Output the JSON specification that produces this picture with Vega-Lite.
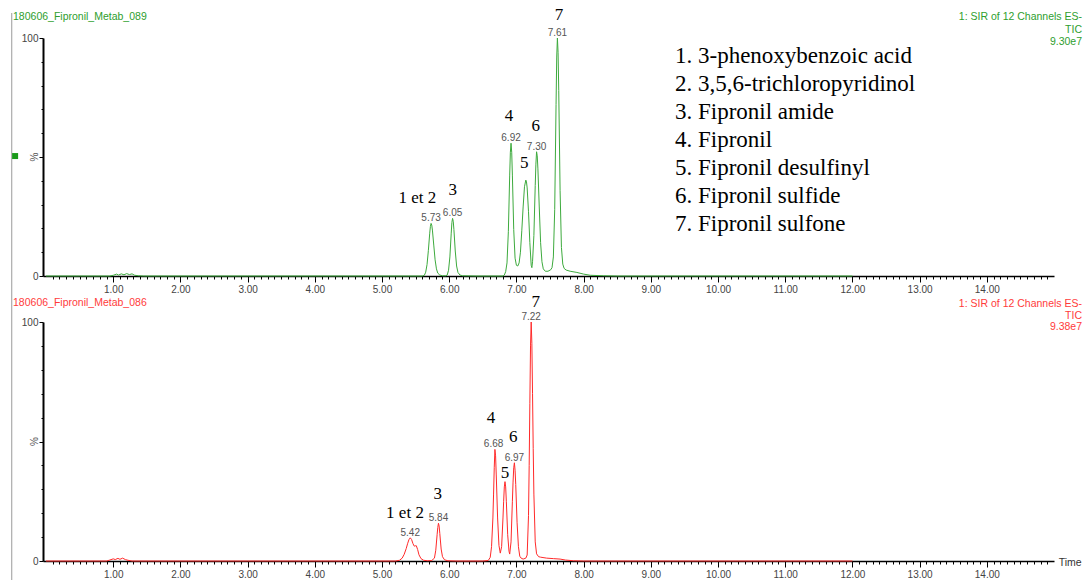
{
"$schema": "https://vega.github.io/schema/vega-lite/v6.json",
"background": "white",
"padding": {"left": 11, "top": 5, "right": 0, "bottom": 0},
"bounds": "flush",
"spacing": 46,
"config": {"view": {"stroke": null}, "font": "Liberation Sans",
  "axis": {"grid": false, "domainColor": "#000000", "tickColor": "#000000", "labelColor": "#444444", "labelFontSize": 10, "labelFont": "Liberation Sans", "titleFont": "Liberation Sans", "titleFontWeight": "normal", "titleColor": "#333333", "titleFontSize": 10.5}},
"datasets": {
"g": [
{"t":0.0,"v":0},{"t":0.5,"v":0},{"t":0.95,"v":0},{"t":1.0,"v":0.3},{"t":1.05,"v":0.8},{"t":1.08,"v":0.4},{"t":1.12,"v":0.9},{"t":1.16,"v":0.5},{"t":1.2,"v":1.0},{"t":1.24,"v":0.6},{"t":1.28,"v":0.9},{"t":1.32,"v":0.3},{"t":1.38,"v":0.1},{"t":1.45,"v":0},{"t":3.0,"v":0},{"t":5.0,"v":0},{"t":5.6,"v":0},{"t":5.63,"v":0.3},
{"t":5.65,"v":1.6},{"t":5.67,"v":4.8},{"t":5.69,"v":10.8},{"t":5.71,"v":18.0},{"t":5.72,"v":20.8},{"t":5.73,"v":22.1},{"t":5.74,"v":21.4},{"t":5.75,"v":19.3},{"t":5.77,"v":13.0},{"t":5.79,"v":6.8},{"t":5.81,"v":3.0},{"t":5.83,"v":1.2},{"t":5.86,"v":0.4},{"t":5.9,"v":0.1},{"t":5.95,"v":0.1},
{"t":5.97,"v":0.4},{"t":5.99,"v":2.4},{"t":6.01,"v":8.0},{"t":6.03,"v":18.0},{"t":6.04,"v":22.5},{"t":6.05,"v":24.2},{"t":6.06,"v":23.0},{"t":6.07,"v":19.5},{"t":6.09,"v":10.5},{"t":6.11,"v":4.2},{"t":6.13,"v":1.5},{"t":6.16,"v":0.4},{"t":6.2,"v":0.1},{"t":6.4,"v":0},{"t":6.8,"v":0},
{"t":6.82,"v":0.4},{"t":6.84,"v":1.8},{"t":6.86,"v":5.5},{"t":6.88,"v":18.6},{"t":6.9,"v":42.4},{"t":6.91,"v":52.0},{"t":6.92,"v":55.8},{"t":6.93,"v":52.0},{"t":6.94,"v":42.4},{"t":6.96,"v":19.5},{"t":6.98,"v":7.5},{"t":7.0,"v":4.5},{"t":7.02,"v":4.2},
{"t":7.04,"v":5.5},{"t":7.06,"v":10.0},{"t":7.08,"v":19.0},{"t":7.1,"v":29.0},{"t":7.12,"v":37.5},{"t":7.14,"v":40.3},{"t":7.15,"v":39.5},{"t":7.16,"v":37.0},{"t":7.18,"v":27.0},{"t":7.2,"v":14.0},{"t":7.22,"v":4.5},{"t":7.23,"v":3.5},
{"t":7.24,"v":6.0},{"t":7.26,"v":17.0},{"t":7.28,"v":38.0},{"t":7.29,"v":47.0},{"t":7.3,"v":52.2},{"t":7.31,"v":50.5},{"t":7.32,"v":45.0},{"t":7.34,"v":29.0},{"t":7.36,"v":14.0},{"t":7.38,"v":6.0},{"t":7.4,"v":3.0},{"t":7.43,"v":2.0},{"t":7.47,"v":2.0},{"t":7.51,"v":2.6},
{"t":7.53,"v":3.5},{"t":7.55,"v":8.0},{"t":7.57,"v":28.0},{"t":7.59,"v":72.0},{"t":7.6,"v":92.0},{"t":7.61,"v":100},{"t":7.62,"v":94.0},{"t":7.63,"v":78.0},{"t":7.65,"v":36.0},{"t":7.67,"v":12.0},{"t":7.69,"v":5.0},{"t":7.71,"v":3.2},{"t":7.74,"v":2.5},{"t":7.8,"v":2.0},{"t":7.9,"v":1.5},{"t":8.0,"v":0.8},{"t":8.1,"v":0.3},{"t":8.3,"v":0.1},{"t":8.5,"v":0},{"t":10.0,"v":0},{"t":12.0,"v":0}
],
"r": [
{"t":0.0,"v":0},{"t":0.5,"v":0},{"t":0.9,"v":0},{"t":0.95,"v":0.4},{"t":1.0,"v":0.9},{"t":1.03,"v":0.6},{"t":1.07,"v":1.1},{"t":1.1,"v":0.7},{"t":1.14,"v":1.2},{"t":1.18,"v":0.6},{"t":1.22,"v":0.3},{"t":1.28,"v":0},{"t":3.0,"v":0},{"t":5.2,"v":0},{"t":5.26,"v":0.3},{"t":5.3,"v":1.2},
{"t":5.33,"v":2.8},{"t":5.36,"v":5.2},{"t":5.38,"v":7.2},{"t":5.4,"v":8.9},{"t":5.42,"v":9.7},{"t":5.44,"v":9.0},{"t":5.46,"v":7.3},{"t":5.48,"v":6.2},{"t":5.5,"v":6.4},{"t":5.51,"v":6.4},{"t":5.53,"v":4.8},{"t":5.55,"v":2.6},{"t":5.58,"v":1.0},{"t":5.62,"v":0.3},{"t":5.68,"v":0.1},{"t":5.74,"v":0.2},
{"t":5.78,"v":1.2},{"t":5.8,"v":4.5},{"t":5.82,"v":11.0},{"t":5.83,"v":14.0},{"t":5.84,"v":15.8},{"t":5.85,"v":14.6},{"t":5.86,"v":11.5},{"t":5.88,"v":5.0},{"t":5.9,"v":1.8},{"t":5.93,"v":0.5},{"t":5.98,"v":0.1},{"t":6.1,"v":0},{"t":6.5,"v":0},{"t":6.58,"v":0.2},
{"t":6.61,"v":1.5},{"t":6.63,"v":6.0},{"t":6.65,"v":18.0},{"t":6.66,"v":28.0},{"t":6.67,"v":39.0},{"t":6.68,"v":46.7},{"t":6.69,"v":44.0},{"t":6.7,"v":36.0},{"t":6.72,"v":18.0},{"t":6.74,"v":6.5},{"t":6.76,"v":3.3},
{"t":6.78,"v":6.0},{"t":6.8,"v":18.0},{"t":6.81,"v":25.0},{"t":6.82,"v":31.0},{"t":6.83,"v":33.2},{"t":6.84,"v":31.0},{"t":6.85,"v":25.0},{"t":6.87,"v":11.0},{"t":6.89,"v":4.0},{"t":6.9,"v":2.9},
{"t":6.92,"v":8.0},{"t":6.94,"v":25.0},{"t":6.95,"v":33.0},{"t":6.96,"v":39.0},{"t":6.97,"v":41.1},{"t":6.98,"v":38.0},{"t":6.99,"v":32.0},{"t":7.01,"v":16.0},{"t":7.03,"v":6.0},{"t":7.05,"v":2.0},{"t":7.07,"v":1.2},{"t":7.1,"v":0.8},{"t":7.14,"v":1.2},
{"t":7.16,"v":2.5},{"t":7.18,"v":19.0},{"t":7.19,"v":40.0},{"t":7.2,"v":66.0},{"t":7.21,"v":90.0},{"t":7.22,"v":100},{"t":7.23,"v":91.0},{"t":7.24,"v":70.0},{"t":7.25,"v":47.0},{"t":7.26,"v":28.0},{"t":7.28,"v":8.0},{"t":7.3,"v":3.0},{"t":7.33,"v":1.8},{"t":7.36,"v":1.6},{"t":7.45,"v":1.2},{"t":7.55,"v":1.0},{"t":7.65,"v":0.8},{"t":7.73,"v":0.4},{"t":7.85,"v":0.1},{"t":8.0,"v":0},{"t":12.0,"v":0}
],
"gl": [
{"t":5.73,"v":22.1,"lab":"5.73"},{"t":6.05,"v":24.2,"lab":"6.05"},{"t":6.92,"v":55.8,"lab":"6.92"},{"t":7.3,"v":52.2,"lab":"7.30"},{"t":7.61,"v":100,"lab":"7.61"}
],
"gn": [
{"t":5.525,"v":30.5,"num":"1 et 2"},{"t":6.052,"v":34.0,"num":"3"},{"t":6.89,"v":65.3,"num":"4"},{"t":7.118,"v":45.3,"num":"5"},{"t":7.287,"v":60.9,"num":"6"},{"t":7.634,"v":107.6,"num":"7"}
],
"rl": [
{"t":5.42,"v":9.7,"lab":"5.42"},{"t":5.84,"v":15.8,"lab":"5.84"},{"t":6.66,"v":46.7,"lab":"6.68"},{"t":6.97,"v":41.1,"lab":"6.97"},{"t":7.22,"v":100,"lab":"7.22"}
],
"rn": [
{"t":5.342,"v":18.1,"num":"1 et 2"},{"t":5.829,"v":25.9,"num":"3"},{"t":6.622,"v":57.6,"num":"4"},{"t":6.83,"v":34.6,"num":"5"},{"t":6.954,"v":49.7,"num":"6"},{"t":7.287,"v":106.4,"num":"7"}
]
},
"vconcat": [
{
"width": 1011, "height": 238,
"encoding": {
  "x": {"field": "t", "type": "quantitative", "scale": {"domain": [-0.045, 15], "nice": false, "zero": false},
   "axis": {"title": null, "values": [0.1,0.2,0.3,0.4,0.5,0.6,0.7,0.8,0.9,1,1.1,1.2,1.3,1.4,1.5,1.6,1.7,1.8,1.9,2,2.1,2.2,2.3,2.4,2.5,2.6,2.7,2.8,2.9,3,3.1,3.2,3.3,3.4,3.5,3.6,3.7,3.8,3.9,4,4.1,4.2,4.3,4.4,4.5,4.6,4.7,4.8,4.9,5,5.1,5.2,5.3,5.4,5.5,5.6,5.7,5.8,5.9,6,6.1,6.2,6.3,6.4,6.5,6.6,6.7,6.8,6.9,7,7.1,7.2,7.3,7.4,7.5,7.6,7.7,7.8,7.9,8,8.1,8.2,8.3,8.4,8.5,8.6,8.7,8.8,8.9,9,9.1,9.2,9.3,9.4,9.5,9.6,9.7,9.8,9.9,10,10.1,10.2,10.3,10.4,10.5,10.6,10.7,10.8,10.9,11,11.1,11.2,11.3,11.4,11.5,11.6,11.7,11.8,11.9,12,12.1,12.2,12.3,12.4,12.5,12.6,12.7,12.8,12.9,13,13.1,13.2,13.3,13.4,13.5,13.6,13.7,13.8,13.9,14,14.1,14.2,14.3,14.4,14.5,14.6,14.7,14.8,14.9],
    "labelExpr": "abs(datum.value - round(datum.value)) < 0.001 ? format(datum.value, '.2f') : ''", "labelOverlap": false, "labelFlush": false, "labelPadding": 2,
    "tickSize": {"condition": {"test": "abs(datum.value - round(datum.value)) < 0.001", "value": 6}, "value": 3}, "domainWidth": 1.5}},
  "y": {"field": "v", "type": "quantitative", "scale": {"domain": [0, 100], "nice": false},
   "axis": {"title": null, "values": [0,10,20,30,40,50,60,70,80,90,100], "labelExpr": "datum.value == 100 ? '100' : datum.value == 0 ? '0' : ''",
    "labelOverlap": false, "labelFlush": false, "labelPadding": 1, "domainWidth": 2,
    "tickSize": {"condition": {"test": "datum.value == 0 || datum.value == 100 || datum.value == 50", "value": 4}, "value": 2}}}
},
"layer": [
{"data": {"name": "g"}, "mark": {"type": "line", "color": "#3daa3d", "strokeWidth": 1}},
{"data": {"name": "gl"}, "mark": {"type": "text", "align": "center", "baseline": "alphabetic", "dy": -2, "fontSize": 10, "color": "#555555", "font": "Liberation Sans"},
 "encoding": {"text": {"field": "lab"}}},
{"data": {"name": "gn"}, "mark": {"type": "text", "align": "center", "baseline": "alphabetic", "fontSize": 17, "color": "#000000", "font": "Liberation Serif"},
 "encoding": {"text": {"field": "num"}}},
{"data": {"values": [{"t": 9.36, "v": 89.4}]}, "mark": {"type": "text", "align": "left", "baseline": "alphabetic", "fontSize": 23, "lineHeight": 28, "color": "#000000", "font": "Liberation Serif",
  "text": ["1. 3-phenoxybenzoic acid", "2. 3,5,6-trichloropyridinol", "3. Fipronil amide", "4. Fipronil", "5. Fipronil desulfinyl", "6. Fipronil sulfide", "7. Fipronil sulfone"]}},
{"data": {"values": [{"t": -0.491, "v": 108.9}]}, "mark": {"type": "text", "align": "left", "baseline": "middle", "fontSize": 10.5, "color": "#2e9e2e", "font": "Liberation Sans", "text": "180606_Fipronil_Metab_089"}},
{"data": {"values": [{"t": 15.417, "v": 107.4}]}, "mark": {"type": "text", "align": "right", "baseline": "alphabetic", "fontSize": 10.5, "lineHeight": 12.5, "color": "#2e9e2e", "font": "Liberation Sans", "text": ["1: SIR of 12 Channels ES-", "TIC", "9.30e7"]}},
{"data": {"values": [{"t": -0.16, "v": 50}]}, "mark": {"type": "text", "align": "center", "baseline": "middle", "angle": 270, "fontSize": 10, "color": "#555555", "font": "Liberation Sans", "text": "%"}},
{"data": {"values": [{"t": -0.51, "v": 110.5, "v2": -19.33}]}, "mark": {"type": "rule", "color": "#9a9a9a", "strokeWidth": 1},
 "encoding": {"y2": {"field": "v2"}}},
{"data": {"values": [{"t": -0.46, "v": 50.4}]}, "mark": {"type": "square", "color": "#1a9a1a", "size": 36, "opacity": 1}}
]
},
{
"width": 1011, "height": 239,
"encoding": {
  "x": {"field": "t", "type": "quantitative", "scale": {"domain": [-0.045, 15], "nice": false, "zero": false},
   "axis": {"title": null, "values": [0.1,0.2,0.3,0.4,0.5,0.6,0.7,0.8,0.9,1,1.1,1.2,1.3,1.4,1.5,1.6,1.7,1.8,1.9,2,2.1,2.2,2.3,2.4,2.5,2.6,2.7,2.8,2.9,3,3.1,3.2,3.3,3.4,3.5,3.6,3.7,3.8,3.9,4,4.1,4.2,4.3,4.4,4.5,4.6,4.7,4.8,4.9,5,5.1,5.2,5.3,5.4,5.5,5.6,5.7,5.8,5.9,6,6.1,6.2,6.3,6.4,6.5,6.6,6.7,6.8,6.9,7,7.1,7.2,7.3,7.4,7.5,7.6,7.7,7.8,7.9,8,8.1,8.2,8.3,8.4,8.5,8.6,8.7,8.8,8.9,9,9.1,9.2,9.3,9.4,9.5,9.6,9.7,9.8,9.9,10,10.1,10.2,10.3,10.4,10.5,10.6,10.7,10.8,10.9,11,11.1,11.2,11.3,11.4,11.5,11.6,11.7,11.8,11.9,12,12.1,12.2,12.3,12.4,12.5,12.6,12.7,12.8,12.9,13,13.1,13.2,13.3,13.4,13.5,13.6,13.7,13.8,13.9,14,14.1,14.2,14.3,14.4,14.5,14.6,14.7,14.8,14.9],
    "labelExpr": "abs(datum.value - round(datum.value)) < 0.001 ? format(datum.value, '.2f') : ''", "labelOverlap": false, "labelFlush": false, "labelPadding": 2,
    "tickSize": {"condition": {"test": "abs(datum.value - round(datum.value)) < 0.001", "value": 6}, "value": 3}, "domainWidth": 1.5}},
  "y": {"field": "v", "type": "quantitative", "scale": {"domain": [0, 100], "nice": false},
   "axis": {"title": null, "values": [0,10,20,30,40,50,60,70,80,90,100], "labelExpr": "datum.value == 100 ? '100' : datum.value == 0 ? '0' : ''",
    "labelOverlap": false, "labelFlush": false, "labelPadding": 1, "domainWidth": 2,
    "tickSize": {"condition": {"test": "datum.value == 0 || datum.value == 100 || datum.value == 50", "value": 4}, "value": 2}}}
},
"layer": [
{"data": {"name": "r"}, "mark": {"type": "line", "color": "#ff2a2a", "strokeWidth": 1}},
{"data": {"name": "rl"}, "mark": {"type": "text", "align": "center", "baseline": "alphabetic", "dy": -2, "fontSize": 10, "color": "#555555", "font": "Liberation Sans"},
 "encoding": {"text": {"field": "lab"}}},
{"data": {"name": "rn"}, "mark": {"type": "text", "align": "center", "baseline": "alphabetic", "fontSize": 17, "color": "#000000", "font": "Liberation Serif"},
 "encoding": {"text": {"field": "num"}}},
{"data": {"values": [{"t": -0.491, "v": 108.1}]}, "mark": {"type": "text", "align": "left", "baseline": "middle", "fontSize": 10.5, "color": "#ff3b3b", "font": "Liberation Sans", "text": "180606_Fipronil_Metab_086"}},
{"data": {"values": [{"t": 15.417, "v": 106.3}]}, "mark": {"type": "text", "align": "right", "baseline": "alphabetic", "fontSize": 10.5, "lineHeight": 11.7, "color": "#ff3b3b", "font": "Liberation Sans", "text": ["1: SIR of 12 Channels ES-", "TIC", "9.38e7"]}},
{"data": {"values": [{"t": -0.16, "v": 50}]}, "mark": {"type": "text", "align": "center", "baseline": "middle", "angle": 270, "fontSize": 10, "color": "#555555", "font": "Liberation Sans", "text": "%"}},
{"data": {"values": [{"t": 15.07, "v": 0}]}, "mark": {"type": "text", "align": "left", "baseline": "middle", "fontSize": 10.5, "color": "#333333", "font": "Liberation Sans", "text": "Time", "dy": 1.5}},
{"data": {"values": [{"t": -0.51, "v": 100, "v2": -7.95}]}, "mark": {"type": "rule", "color": "#9a9a9a", "strokeWidth": 1},
 "encoding": {"y2": {"field": "v2"}}}
]
}
]
}
